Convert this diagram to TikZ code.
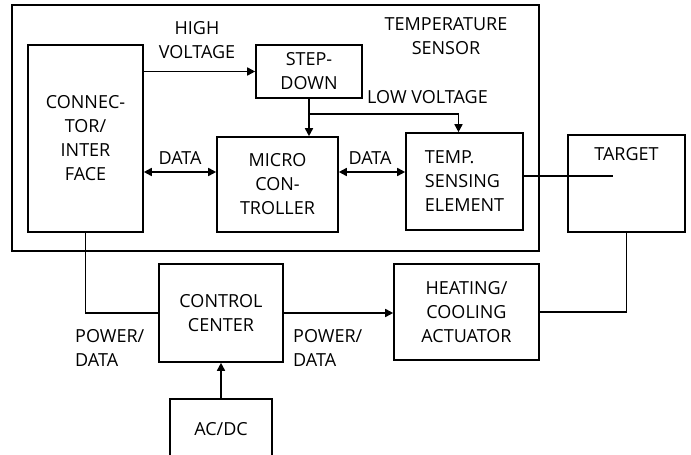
\documentclass[tikz,border=0pt]{standalone}
\usepackage{fontspec}
\setmainfont{Open Sans}
\usetikzlibrary{arrows.meta,positioning,calc}

\begin{document}
\begin{tikzpicture}[
  x=1pt, y=-1pt,
  font=\fontsize{18}{24}\selectfont,
  block/.style={draw, line width=1.6pt, inner sep=0pt, align=center},
  arrow/.style={-{Triangle[length=8pt,width=8pt]}, line width=1.6pt},
  both/.style={{Triangle[length=8pt,width=8pt]}-{Triangle[length=8pt,width=8pt]}, line width=1.6pt},
  wire/.style={line width=1.6pt},
  tag/.style={align=center, inner sep=0pt}
]
\useasboundingbox (0,0) rectangle (691,455);

% sensor housing
\node[block, minimum width=527pt, minimum height=246pt] (sensor) at (275.5,128) {};
\node[tag] (sensorlbl) at (446,36.5) {TEMPERATURE\\SENSOR};

% blocks
\node[block, minimum width=115pt, minimum height=187pt] (conn) at (85.5,138.5) {CONNEC-\\TOR/\\INTER\\FACE};
\node[block, minimum width=106pt, minimum height=53pt] (stepd) at (309,71.5) {STEP-\\DOWN};
\node[block, minimum width=121pt, minimum height=95pt] (micro) at (277.5,184.5) {MICRO\\CON-\\TROLLER};
\node[block, minimum width=117pt, minimum height=97pt, align=left] (temp) at (464.5,181.5) {TEMP.\\SENSING\\ELEMENT};
\node[block, minimum width=117pt, minimum height=97pt,
      label={[tag, anchor=north, yshift=-13.5pt]north:TARGET}] (target) at (626.5,183.5) {};
\node[block, minimum width=124pt, minimum height=98pt] (control) at (221,313) {CONTROL\\CENTER};
\node[block, minimum width=145pt, minimum height=96pt] (heating) at (466.5,312) {HEATING/\\COOLING\\ACTUATOR};
\node[block, minimum width=102pt, minimum height=60pt] (acdc) at (221,429) {AC/DC};

% labels
\node[tag] (hv) at (197,40) {HIGH\\VOLTAGE};
\node[tag, anchor=west] (lv) at (367,97) {LOW VOLTAGE};
\node[tag] (data1) at (180,158) {DATA};
\node[tag] (data2) at (370,158) {DATA};
\node[tag, anchor=west, align=left] (pd1) at (75,348) {POWER/\\DATA};
\node[tag, anchor=west, align=left] (pd2) at (293,348) {POWER/\\DATA};

% connections
\coordinate (split) at ($(stepd.south)+(0,15)$);
\coordinate (datay) at (0,172);
\coordinate (probe) at (613,176);

\draw[arrow] (stepd.west -| conn.east) -- (stepd.west);
\draw[arrow] (stepd.south) -- (stepd.south |- micro.north);
\draw[arrow] (split) -| ([xshift=-6pt]temp.north);
\draw[both] (conn.east |- datay) -- (micro.west |- datay);
\draw[both] (micro.east |- datay) -- (temp.west |- datay);
\draw[wire] (temp.east |- probe) -- (probe);
\draw[wire] (target.south) |- (heating.east);
\draw[wire] (conn.south) |- (control.west);
\draw[arrow] (control.east) -- (control.east -| heating.west);
\draw[arrow] (acdc) -- (control);

\end{tikzpicture}
\end{document}
